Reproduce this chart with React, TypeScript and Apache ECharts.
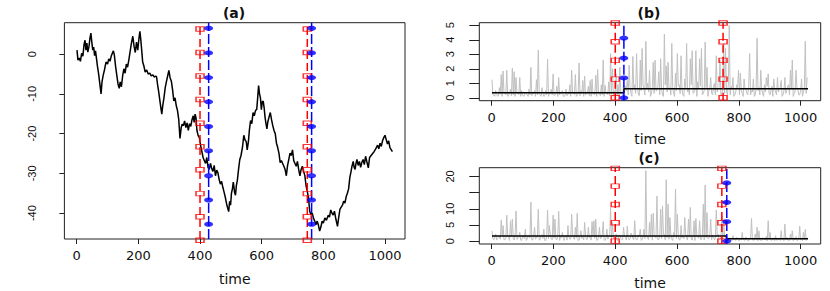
import React, { useEffect, useRef } from "react";
import * as echarts from "echarts";

// ---------- tick values ----------
const xTicks = [0, 200, 400, 600, 800, 1000];
const yTicksA = [-40, -30, -20, -10, 0];
const yTicksB = [0, 1, 2, 3, 4, 5];
const yTicksC = [0, 5, 10, 15, 20];
const yLabelsC = [0, 5, 10, 20];

// ---------- panel (a): series path (time, value) ----------
const walkA: [number, number][] = [
  [1, 1.0], [4, -1.5], [8, -1.0], [12, -1.8], [16, 0.2], [20, -0.5], [24, 2.5], [27, 3.5], [30, 1.0], [33, 2.8],
  [36, 0.5], [40, 2.0], [43, 4.0], [46, 5.3], [49, 3.0], [52, 1.0], [55, 1.8], [58, -0.4], [61, 0.8], [64, -1.0],
  [67, -2.9], [71, -4.9], [75, -7.5], [79, -10.0], [82, -7.0], [86, -5.3], [90, -4.0], [95, -2.0], [100, -2.5], [104, -1.2],
  [108, -1.8], [112, -0.5], [116, 0.3], [119, 0.8], [122, -0.2], [126, -3.0], [130, -5.3], [134, -7.5], [138, -8.6], [141, -7.0],
  [145, -8.2], [149, -5.5], [153, -3.7], [157, -4.8], [161, -2.5], [165, -3.3], [169, -1.5], [173, 0.5], [177, 2.5], [182, 4.5],
  [186, 2.0], [190, 0.4], [194, 3.0], [198, 1.0], [202, 4.0], [205, 5.7], [208, 3.5], [211, 0.8], [214, -2.0], [218, -3.0],
  [222, -4.5], [227, -4.0], [232, -5.0], [237, -4.8], [242, -5.5], [247, -5.2], [252, -5.8], [256, -5.5], [259, -5.7], [262, -7.5],
  [266, -9.5], [270, -11.8], [273, -13.5], [276, -15.1], [279, -13.0], [283, -11.0], [287, -8.5], [291, -6.9], [295, -5.5], [299, -4.1],
  [303, -6.0], [307, -6.8], [311, -9.0], [315, -11.8], [319, -11.0], [323, -13.0], [327, -14.2], [331, -16.5], [335, -21.2], [339, -18.5],
  [342, -17.6], [346, -18.0], [350, -16.8], [354, -18.5], [358, -17.3], [362, -19.2], [366, -17.5], [370, -18.2], [374, -16.5], [378, -15.5],
  [381, -17.2], [384, -15.1], [387, -16.0], [390, -19.2], [394, -20.5], [398, -21.0], [402, -23.0], [406, -24.5], [410, -26.0], [414, -26.8],
  [418, -27.5], [422, -26.0], [426, -28.5], [430, -29.0], [434, -27.5], [438, -28.8], [442, -29.5], [446, -28.0], [450, -30.6], [454, -29.2],
  [458, -29.8], [462, -31.5], [466, -32.7], [470, -32.0], [474, -33.5], [478, -34.7], [482, -36.0], [486, -37.6], [489, -38.5], [493, -39.6],
  [496, -37.0], [499, -38.0], [502, -35.0], [505, -33.9], [508, -32.2], [512, -34.7], [515, -35.5], [518, -33.0], [521, -31.8], [525, -29.0],
  [529, -26.5], [533, -25.5], [538, -23.3], [542, -20.4], [546, -21.6], [550, -22.0], [553, -24.1], [557, -22.0], [560, -19.2], [564, -16.7],
  [568, -17.5], [572, -14.7], [576, -15.5], [580, -14.2], [584, -13.9], [587, -11.0], [590, -7.9], [593, -10.0], [596, -11.0], [599, -14.0],
  [602, -12.0], [605, -11.8], [608, -13.5], [611, -15.9], [614, -17.5], [617, -18.8], [620, -17.0], [624, -15.8], [628, -14.7], [632, -16.5],
  [636, -18.0], [640, -19.2], [644, -20.0], [648, -22.4], [652, -23.5], [656, -24.9], [660, -27.3], [664, -26.8], [668, -27.5], [672, -28.2],
  [676, -29.0], [680, -30.6], [684, -28.0], [688, -26.5], [692, -24.9], [696, -25.5], [700, -24.1], [704, -26.8], [708, -27.5], [712, -28.2],
  [716, -27.0], [720, -29.0], [724, -30.6], [728, -29.0], [732, -28.2], [736, -29.5], [740, -30.5], [744, -33.1], [748, -34.5], [752, -36.3],
  [756, -39.6], [760, -40.4], [764, -40.0], [768, -41.2], [772, -42.0], [776, -42.9], [780, -42.0], [784, -43.0], [788, -44.5], [792, -43.5],
  [796, -42.0], [800, -42.5], [805, -41.2], [810, -41.8], [816, -40.5], [820, -41.0], [824, -39.2], [828, -40.0], [832, -40.5], [836, -39.5],
  [841, -41.6], [846, -43.3], [850, -41.0], [854, -39.0], [858, -38.5], [862, -38.0], [866, -37.0], [870, -37.5], [874, -35.9], [878, -35.0],
  [882, -33.9], [886, -31.0], [890, -29.5], [893, -28.2], [897, -27.0], [900, -28.5], [903, -29.0], [906, -27.5], [909, -26.5], [913, -28.0],
  [917, -27.0], [921, -28.5], [925, -27.2], [929, -26.5], [933, -27.8], [937, -25.7], [941, -27.0], [946, -28.6], [950, -26.0], [955, -25.5],
  [960, -25.0], [964, -24.6], [968, -24.1], [972, -23.5], [976, -22.9], [980, -23.8], [984, -22.4], [988, -23.2], [992, -21.8], [996, -21.0],
  [1000, -20.4], [1004, -21.5], [1008, -22.6], [1012, -21.8], [1016, -23.5], [1020, -24.0], [1024, -24.5],
];

// ---------- panels (b), (c): grey series ----------
// peaks: values at t = 1 + 6k ; lows: values at t = 4 + 6k (between consecutive peaks)
const sampleStart = 1;
const sampleStep = 6;
const greyB = [
  1.25, 0.2, 0.5, 0.1, 0.7, 1.6, 1.85, 0.3, 1.9, 0.2, 0.6, 2.05, 1.8, 1.4, 0.3, 1.4, 0.5, 0.1, 0.4, 0.2,
  0.6, 2.1, 0.3, 0.5, 1.25, 3.3, 0.2, 0.7, 0.1, 0.5, 2.65, 0.3, 0.6, 1.65, 0.2, 0.8, 1.4, 0.3, 0.5, 0.1,
  0.6, 0.3, 0.9, 1.9, 0.4, 1.6, 0.2, 2.4, 0.5, 1.2, 1.5, 0.3, 0.8, 1.2, 1.3, 0.4, 1.55, 1.95, 0.2, 0.9,
  2.6, 0.85, 0.3, 1.1, 3.05, 2.0, 0.5, 1.65, 0.9, 2.1, 0.4, 1.0, 0.8, 1.2, 2.25, 0.3, 2.85, 0.9, 3.05, 0.2,
  2.6, 3.4, 0.6, 3.9, 1.0, 1.9, 0.3, 2.45, 2.6, 0.5, 1.8, 2.7, 0.2, 4.4, 2.2, 2.45, 0.7, 3.75, 0.3, 1.7,
  3.05, 0.9, 2.9, 0.2, 1.3, 3.75, 0.6, 2.7, 3.25, 0.4, 3.25, 1.1, 2.7, 3.4, 0.3, 3.85, 2.1, 0.5, 1.4, 0.2,
  1.0, 2.9, 0.6, 2.6, 0.3, 3.75, 3.4, 0.2, 5.0, 0.8, 1.4, 0.2, 0.9, 1.9, 1.7, 0.3, 1.3, 0.6, 0.2, 3.05,
  0.5, 1.3, 0.2, 4.1, 0.7, 1.9, 0.3, 0.9, 1.4, 1.65, 0.2, 0.8, 1.3, 0.4, 1.4, 0.6, 1.2, 0.2, 1.4, 0.5,
  0.9, 1.9, 2.6, 0.3, 1.9, 0.6, 0.2, 1.3, 0.4, 3.9, 1.4,
];
const greyBLow = [
  0.2, 0.1, 0.3, 0.15, 0.25, 0.1, 0.3, 0.2, 0.1, 0.35, 0.15, 0.2, 0.1, 0.3, 0.2, 0.1, 0.25, 0.15, 0.3, 0.1,
  0.2, 0.15, 0.3, 0.1, 0.2, 0.25, 0.1, 0.3, 0.15, 0.2, 0.1, 0.3, 0.2, 0.15, 0.25, 0.1, 0.2, 0.3, 0.1, 0.2,
  0.15, 0.25, 0.1, 0.3, 0.2, 0.1, 0.25, 0.15, 0.3, 0.1, 0.2, 0.3, 0.15, 0.1, 0.25, 0.2, 0.1, 0.3, 0.15, 0.2,
  0.1, 0.3, 0.2, 0.15, 0.25, 0.1, 0.3, 0.2, 0.1, 0.25, 0.15, 0.4,
  0.5, 0.2, 0.7, 0.1, 0.6, 0.3, 0.8, 0.15, 0.5, 0.9, 0.2, 0.6, 0.4, 0.1, 0.7, 0.3, 0.5, 0.8, 0.2, 0.6,
  0.1, 0.9, 0.4, 0.6, 0.2, 0.7, 0.1, 0.5, 0.8, 0.3, 0.6, 0.1, 0.7, 0.4, 0.2, 0.9, 0.3, 0.5, 0.1, 0.6,
  0.8, 0.2, 0.5, 0.7, 0.1, 0.6, 0.3, 0.8, 0.2, 0.4, 0.7, 0.1, 0.6, 0.3, 0.5, 0.9, 0.2, 0.6, 0.1, 0.4,
  0.7, 0.2, 0.5, 0.1, 0.6, 0.3, 0.8, 0.2, 0.4, 0.1, 0.7, 0.5, 0.2, 0.6, 0.1, 0.4, 0.8, 0.3, 0.5, 0.1,
  0.6, 0.2, 0.4, 0.7, 0.1, 0.5, 0.3, 0.8, 0.2, 0.6, 0.1, 0.4, 0.7, 0.2, 0.5, 0.1, 0.6, 0.3,
];
const greyC = [
  3.2, 0.4, 2.2, 0.8, 1.5, 6.5, 4.8, 0.5, 8.0, 1.2, 6.3, 6.8, 0.3, 9.3, 1.0, 2.7, 0.2, 1.8, 3.7, 0.6,
  1.4, 12.1, 0.3, 4.3, 1.1, 9.85, 0.5, 2.0, 3.7, 0.2, 9.6, 4.8, 0.7, 8.0, 6.8, 0.4, 9.2, 1.3, 2.7, 0.2,
  1.6, 4.8, 0.6, 8.3, 1.0, 4.3, 8.6, 0.3, 3.2, 1.2, 5.8, 0.5, 4.3, 1.5, 6.0, 6.3, 6.8, 0.4, 4.3, 1.0,
  6.0, 0.2, 3.7, 1.4, 10.4, 5.8, 0.6, 2.2, 0.3, 1.8, 0.5, 4.3, 1.1, 4.6, 0.4, 2.5, 0.9, 6.3, 0.3, 1.9,
  3.7, 0.6, 3.7, 21.8, 0.8, 5.8, 8.3, 8.6, 1.2, 13.9, 0.5, 9.85, 10.9, 2.0, 19.0, 11.4, 7.3, 0.7, 2.6, 16.1,
  8.3, 0.4, 4.8, 1.5, 7.3, 0.9, 6.8, 10.4, 0.3, 6.3, 7.0, 1.1, 6.3, 0.5, 11.4, 17.3, 8.8, 0.8, 6.8, 1.9,
  0.4, 9.6, 2.2, 0.6, 7.8, 6.8, 1.4, 0.2, 0.9, 0.3, 1.7, 0.5, 1.2, 0.2, 0.8, 2.7, 0.4, 1.3, 0.2, 0.9,
  7.0, 0.5, 2.2, 4.3, 3.2, 0.3, 1.1, 0.6, 1.5, 6.3, 2.7, 0.4, 1.0, 1.7, 0.3, 0.8, 3.2, 0.5, 5.3, 1.2,
  0.3, 2.2, 3.2, 0.6, 1.4, 0.3, 4.6, 0.9, 2.7, 3.6, 1.0,
];
const greyCLow = [
  0.8, 1.5, 0.3, 1.2, 0.6, 1.8, 0.4, 1.0, 1.6, 0.2, 1.3, 0.7, 1.9, 0.5, 1.1, 0.3, 1.4, 0.8, 0.2, 1.6,
  0.9, 0.4, 1.7, 0.6, 1.2, 0.3, 1.5, 0.8, 0.2, 1.3, 0.7, 1.8, 0.4, 1.0, 0.6, 1.4, 0.2, 1.1, 0.9, 1.6,
  0.3, 1.2, 0.7, 1.9, 0.5, 1.0, 0.2, 1.4, 0.8, 0.4, 1.6, 0.6, 1.1, 0.3, 1.5, 0.9, 0.2, 1.3, 0.7, 1.8,
  0.4, 1.0, 0.6, 1.7, 0.3, 1.2, 0.8, 0.2, 1.5, 0.9, 0.5, 1.4, 0.3, 1.1, 0.7, 1.9, 0.4, 1.0, 0.6, 1.6,
  0.2, 1.3, 0.8, 1.8, 0.5, 1.2, 0.3, 1.6, 0.9, 0.4, 1.4, 0.7, 2.0, 0.3, 1.1, 0.6, 1.7, 0.2, 1.3, 0.8,
  1.5, 0.4, 1.0, 0.7, 1.9, 0.3, 1.2, 0.6, 1.6, 0.2, 1.4, 0.9, 0.5, 1.8, 0.3, 1.1, 0.7, 1.5, 0.4, 1.2,
  0.8, 1.6, 0.3, 1.0, 0.6, 1.4,
  0.3, 0.2, 0.5, 0.1, 0.4, 0.2, 0.6, 0.1, 0.3, 0.5, 0.2, 0.4, 0.1, 0.6, 0.3, 0.2, 0.5, 0.1, 0.4, 0.2,
  0.6, 0.3, 0.1, 0.5, 0.2, 0.4, 0.1, 0.3, 0.6, 0.2, 0.5, 0.1, 0.4, 0.3, 0.2, 0.6, 0.1, 0.4, 0.2, 0.5,
  0.3, 0.1, 0.4, 0.2,
];

// step (mean-level) lines
const stepTimeB = 428;
const levelsB = [0.35, 0.62];
const stepTimeC = 760;
const levelsC = [1.6, 0.7];

// vertical change-point lines and their marker heights
const redTimesA = [400, 748];
const blueTimesA = [428, 762];
const redMarksA = [6.3, 0.4, -5.5, -11.4, -17.4, -23.3, -29.1, -35.1, -40.9, -46.8];
const blueMarksA = [6.5, 0.3, -5.9, -12.0, -18.2, -24.3, -30.6, -36.7, -42.8];
const redTimesB = [400, 749];
const blueTimesB = [428];
const redMarksB = [5.16, 3.87, 2.58, 1.29, 0];
const blueMarksB = [4.12, 2.74, 1.37, 0];
const redTimesC = [400, 745];
const blueTimesC = [761];
const redMarksC = [22.5, 17.0, 11.3, 5.65, 0];
const blueMarksC = [18, 12, 6, 0];

const X_MIN = -39.92;
const X_MAX = 1064.92;
const T_FIRST = 1;
const T_LAST = 1024;

const RED = "#ff0000";
const BLUE = "#0000ff";

export default function App() {
  const ref = useRef<HTMLDivElement>(null);

  useEffect(() => {
    if (!ref.current) return;
    const chart = echarts.init(ref.current, undefined, { renderer: "svg" });

    const yRanges: [number, number][] = [
      [-46.5, 7.9],
      [-0.2, 5.18],
      [-0.9, 22.7],
    ];
    const grids = [
      { left: 64.4, top: 22.7, width: 340.6, height: 222.3 },
      { left: 479.3, top: 22.7, width: 341.4, height: 78 },
      { left: 479.3, top: 167.7, width: 341.4, height: 78 },
    ].map((g) => ({ ...g, show: true, borderColor: "#222", borderWidth: 1, backgroundColor: "transparent" }));

    const plain = (v: number) => String(v);

    const nameGaps = [33, 31, 32];
    const xAxes = [0, 1, 2].map((i) => ({
      type: "value",
      gridIndex: i,
      min: X_MIN,
      max: X_MAX,
      axisLine: { show: false, onZero: false },
      splitLine: { show: false },
      axisTick: { show: true, customValues: xTicks, length: 5, lineStyle: { color: "#222", width: 1 } },
      axisLabel: {
        customValues: xTicks,
        formatter: plain,
        margin: 10,
        color: "#111",
        fontFamily: "DejaVu Sans",
        fontSize: 13,
      },
      name: "time",
      nameLocation: "middle",
      nameGap: nameGaps[i],
      nameTextStyle: { color: "#111", fontFamily: "DejaVu Sans", fontSize: 14 },
    }));

    const yTickSets = [yTicksA, yTicksB, yTicksC];
    const yLabelSets = [yTicksA, yTicksB, yLabelsC];
    const yTickLen = [5, 10, 10];
    const yMargins = [27, 24, 24];
    const yAxes = [0, 1, 2].map((i) => ({
      type: "value",
      gridIndex: i,
      min: yRanges[i][0],
      max: yRanges[i][1],
      axisLine: { show: false, onZero: false },
      splitLine: { show: false },
      axisTick: { show: true, customValues: yTickSets[i], length: yTickLen[i], lineStyle: { color: "#222", width: 1 } },
      axisLabel: {
        customValues: yLabelSets[i],
        formatter: plain,
        rotate: 90,
        margin: yMargins[i],
        color: "#111",
        fontFamily: "Liberation Sans",
        fontSize: 11,
      },
    }));

    const series: any[] = [];

    // grey series (b), (c): interleave peaks and lows
    const greyData = (peaks: number[], lows: number[]) => {
      const out: number[][] = [];
      peaks.forEach((v, k) => {
        const t = sampleStart + k * sampleStep;
        out.push([t, v]);
        if (k < lows.length && k < peaks.length - 1) out.push([t + sampleStep / 2, lows[k]]);
      });
      return out;
    };
    [
      [greyB, greyBLow],
      [greyC, greyCLow],
    ].forEach(([peaks, lows], k) => {
      series.push({
        type: "line",
        xAxisIndex: k + 1,
        yAxisIndex: k + 1,
        data: greyData(peaks, lows),
        showSymbol: false,
        lineStyle: { color: "#c0c0c0", width: 1 },
        z: 1,
      });
    });

    // step lines
    const stepData = (t: number, lv: number[]) => [
      [T_FIRST, lv[0]],
      [t, lv[0]],
      [t, lv[1]],
      [T_LAST, lv[1]],
    ];
    series.push({
      type: "line", xAxisIndex: 1, yAxisIndex: 1, data: stepData(stepTimeB, levelsB),
      showSymbol: false, lineStyle: { color: "#000", width: 1.5 }, z: 2,
    });
    series.push({
      type: "line", xAxisIndex: 2, yAxisIndex: 2, data: stepData(stepTimeC, levelsC),
      showSymbol: false, lineStyle: { color: "#000", width: 1.5 }, z: 2,
    });

    // panel (a) walk
    series.push({
      type: "line", xAxisIndex: 0, yAxisIndex: 0, data: walkA,
      showSymbol: false, lineStyle: { color: "#000", width: 1.5 }, z: 2,
    });

    const addVertical = (idx: number, times: number[], marks: number[], color: string, dash: number[], symbol: string, size: number[], filled: boolean) => {
      times.forEach((t) => {
        series.push({
          type: "line", xAxisIndex: idx, yAxisIndex: idx,
          data: [[t, yRanges[idx][0]], [t, yRanges[idx][1]]],
          showSymbol: false,
          lineStyle: { color, width: 1.5, type: dash },
          z: 3,
        });
        series.push({
          type: "scatter", xAxisIndex: idx, yAxisIndex: idx,
          data: marks.map((m) => [t, m]),
          symbol, symbolSize: size, clip: false,
          itemStyle: filled
            ? { color }
            : { color: "rgba(255,255,255,0)", borderColor: color, borderWidth: 1.2 },
          z: 4,
        });
      });
    };

    addVertical(0, redTimesA, redMarksA, RED, [8, 4], "rect", [8, 4.5], false);
    addVertical(0, blueTimesA, blueMarksA, BLUE, [10, 3], "circle", [9, 5], true);
    addVertical(1, redTimesB, redMarksB, RED, [8, 4], "rect", [8, 4.5], false);
    addVertical(1, blueTimesB, blueMarksB, BLUE, [10, 3], "circle", [9, 5], true);
    addVertical(2, redTimesC, redMarksC, RED, [8, 4], "rect", [8, 4.5], false);
    addVertical(2, blueTimesC, blueMarksC, BLUE, [10, 3], "circle", [9, 5], true);

    const titleStyle = (text: string, x: number, y: number) => ({
      type: "text",
      x,
      y,
      style: {
        text,
        align: "center",
        verticalAlign: "middle",
        fontFamily: "DejaVu Sans",
        fontWeight: "bold",
        fontSize: 14,
        fill: "#111",
      },
    });

    chart.setOption({
      animation: false,
      grid: grids,
      xAxis: xAxes,
      yAxis: yAxes,
      series,
      graphic: [
        titleStyle("(a)", 234, 13),
        titleStyle("(b)", 649, 12.5),
        titleStyle("(c)", 649, 158),
      ],
    });

    return () => chart.dispose();
  }, []);

  return (
    <div
      ref={ref}
      style={{ position: "absolute", left: 0, top: 0, width: 830, height: 291, background: "#fff" }}
    />
  );
}
